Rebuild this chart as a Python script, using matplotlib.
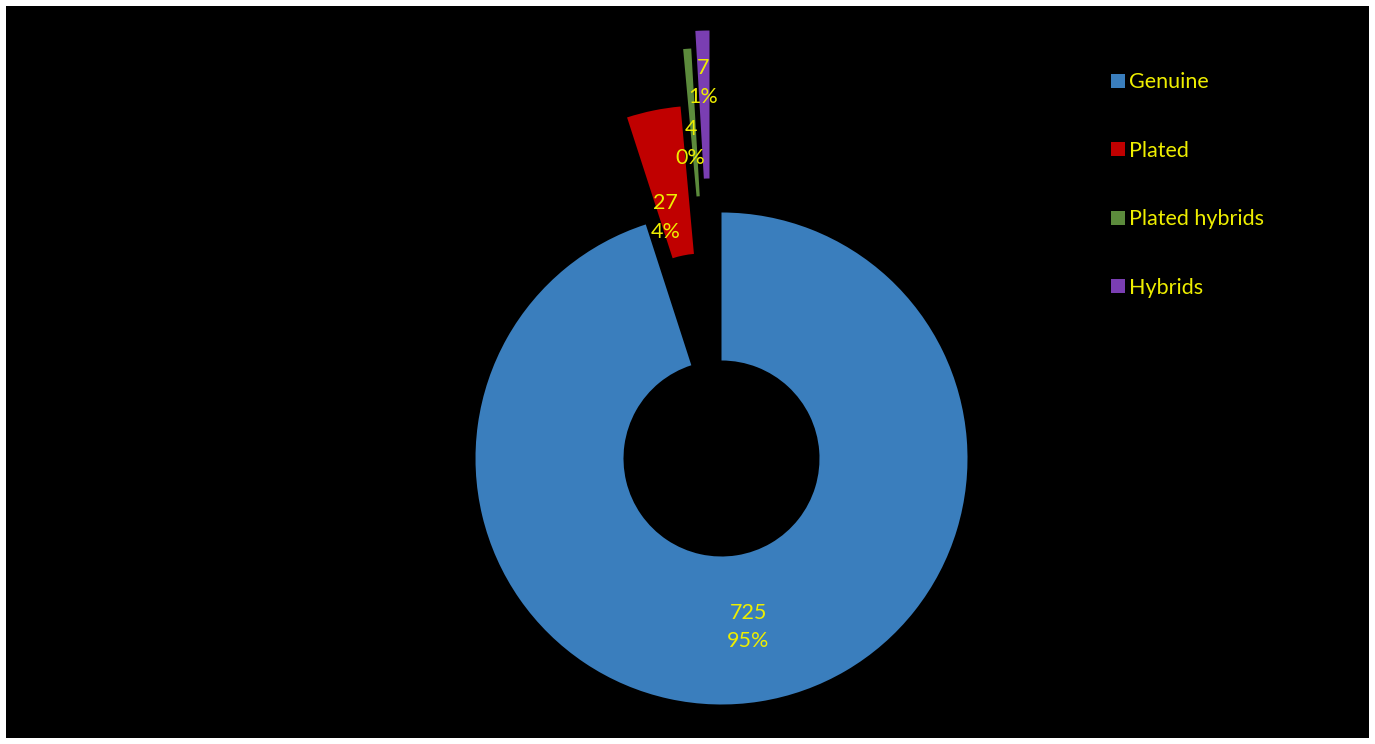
import numpy as np
import matplotlib
matplotlib.use("Agg")
import matplotlib.pyplot as plt
from matplotlib.patches import Rectangle, Patch

categories = ["Genuine", "Plated", "Plated hybrids", "Hybrids"]
values = [725, 27, 4, 7]
pct_labels = ["95%", "4%", "0%", "1%"]
colors = ["#3A7EBD", "#C00000", "#5C8B3C", "#7A3EB2"]
text_color = "#EEEE00"

W, H = 1375, 744
fig = plt.figure(figsize=(W / 100, H / 100), dpi=100, facecolor="white")
ax = fig.add_axes([0, 0, 1, 1])
ax.add_patch(Rectangle((6, 6), 1363, 732, facecolor="black", edgecolor="none", zorder=0))

center = (721.5, H - 458.5)
radius = 246
ring = 148
# explosion offsets of each slice (x, y) in pixels
explode_dx = [0, -18.7, -16.1, -12.0]
explode_dy = [0, 107.0, 164.4, 182.0]

wedges, _ = ax.pie(values, colors=colors, startangle=90, counterclock=False,
                   radius=radius, center=center,
                   wedgeprops=dict(width=ring, edgecolor="none"), frame=True)
for w, dx, dy in zip(wedges, explode_dx, explode_dy):
    w.set_center((center[0] + dx, center[1] + dy))

# label placement along each slice's bisector
label_r = [170.5, 137.0, 151.0, 194.0]
label_dx = [0, -9.6, -3.7, -0.4]
total = sum(values)
cum = np.cumsum([0] + values)
for i, v in enumerate(values):
    mid = (cum[i] + cum[i + 1]) / 2 / total
    th = np.deg2rad(90 - 360 * mid)
    cx = center[0] + explode_dx[i]
    cy = center[1] + explode_dy[i]
    x = cx + label_r[i] * np.cos(th) + label_dx[i]
    y = cy + label_r[i] * np.sin(th)
    ax.text(x, y, f"{v}\n{pct_labels[i]}", ha="center", va="center",
            color=text_color, fontsize=15.5, family="Lato", linespacing=1.55)

handles = [Patch(facecolor=c, edgecolor="none") for c in colors]
leg = ax.legend(handles, categories, loc="upper left",
                bbox_to_anchor=(1092 / W, 1 - 53 / H), frameon=False,
                prop=dict(family="Lato", size=15.5), labelcolor=text_color,
                labelspacing=2.25, handlelength=0.62, handleheight=0.62,
                handletextpad=0.2)

ax.set_xlim(0, W)
ax.set_ylim(0, H)
ax.set_aspect("equal")
ax.axis("off")
fig.savefig("out.png", dpi=100, facecolor="white")
